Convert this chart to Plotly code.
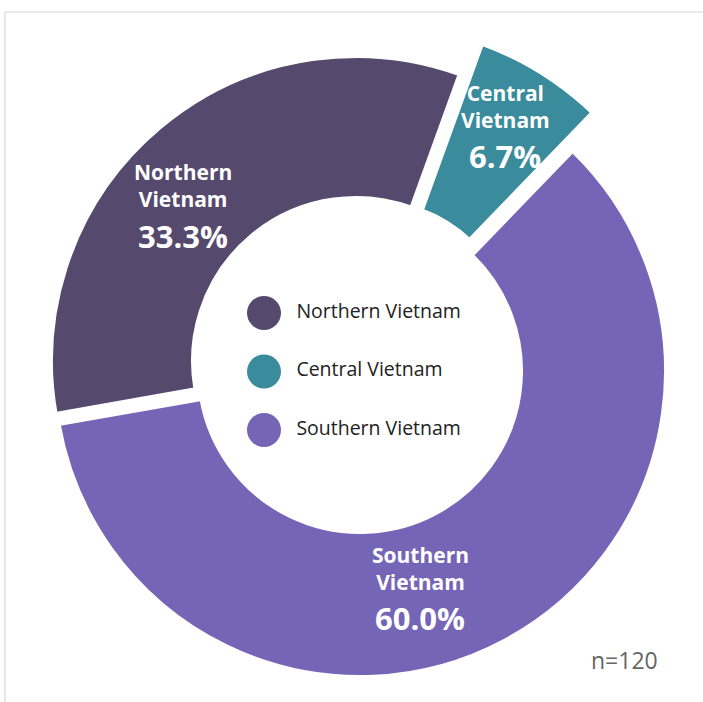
import plotly.graph_objects as go

regions = ["Northern Vietnam", "Central Vietnam", "Southern Vietnam"]
short_lines = ["Northern<br>Vietnam", "Central<br>Vietnam", "Southern<br>Vietnam"]
shares = [33.3, 6.7, 60.0]
colors = ["#56496e", "#3a8b9c", "#7565b6"]
n_label = "n=120"

W, H = 703, 702

# per-slice drawing geometry in pixels: centre x, centre y (from top), outer radius, inner radius, border
slice_geom = [
    (356, 361, 305, 163, 4),   # Northern
    (371, 345, 323, 142, 8),   # Central (exploded, thicker ring)
    (360, 371, 306, 161, 4),   # Southern
]

fig = go.Figure()
for i, (cx, cy, R, r, bw) in enumerate(slice_geom):
    cols = [c if j == i else "rgba(0,0,0,0)" for j, c in enumerate(colors)]
    lw = [bw if j == i else 0 for j in range(len(colors))]
    fig.add_trace(go.Pie(
        labels=regions, values=shares, sort=False, direction="clockwise",
        rotation=-100, hole=r / R,
        marker=dict(colors=cols, line=dict(color="white", width=lw)),
        textinfo="none",
        domain=dict(x=[(cx - R) / W, (cx + R) / W], y=[(H - cy - R) / H, (H - cy + R) / H]),
        showlegend=False, hoverinfo="label+percent",
    ))

# legend drawn as a marker column in the hole
idx = list(range(len(regions)))
spacing = 58.5
top_px = 313
y0 = -top_px / spacing
y1 = y0 + H / spacing
fig.add_trace(go.Scatter(
    x=[0] * len(regions), y=idx, mode="markers+text",
    marker=dict(size=34, color=colors),
    text=["  " + r for r in regions], textposition="middle right",
    textfont=dict(family="Open Sans", size=19.5, color="#222222"),
    showlegend=False, hoverinfo="skip", cliponaxis=False,
))
fig.update_xaxes(range=[-264, W - 264], visible=False, domain=[0, 1], fixedrange=True)
fig.update_yaxes(range=[y1, y0], visible=False, domain=[0, 1], fixedrange=True)

# slice labels (name block and percentage), positions in pixels from top-left
name_pos = [(183, 186), (505, 107), (420, 568)]
pct_pos = [(183, 236), (505, 156), (420, 618)]
for s, v, (nx, ny), (px, py) in zip(short_lines, shares, name_pos, pct_pos):
    fig.add_annotation(text=f"<b>{s}</b>", x=nx / W, y=1 - ny / H, xref="paper", yref="paper",
                       xanchor="center", yanchor="middle", showarrow=False,
                       font=dict(family="Open Sans", size=21, color="white"))
    fig.add_annotation(text=f"<b>{v:.1f}%</b>", x=px / W, y=1 - py / H, xref="paper", yref="paper",
                       xanchor="center", yanchor="middle", showarrow=False,
                       font=dict(family="Open Sans", size=31, color="white"))

fig.add_annotation(text=n_label, x=660 / W, y=1 - 660 / H, xref="paper", yref="paper",
                   xanchor="right", yanchor="middle", showarrow=False,
                   font=dict(family="Open Sans", size=23, color="#666666"))

fig.add_shape(type="rect", xref="paper", yref="paper", x0=0.007, x1=1.02,
              y0=-0.02, y1=1 - 12 / H, line=dict(color="#d4d4d4", width=1))

fig.update_layout(width=W, height=H, margin=dict(l=0, r=0, t=0, b=0),
                  paper_bgcolor="white", plot_bgcolor="rgba(0,0,0,0)")
fig.write_html("out.html")
